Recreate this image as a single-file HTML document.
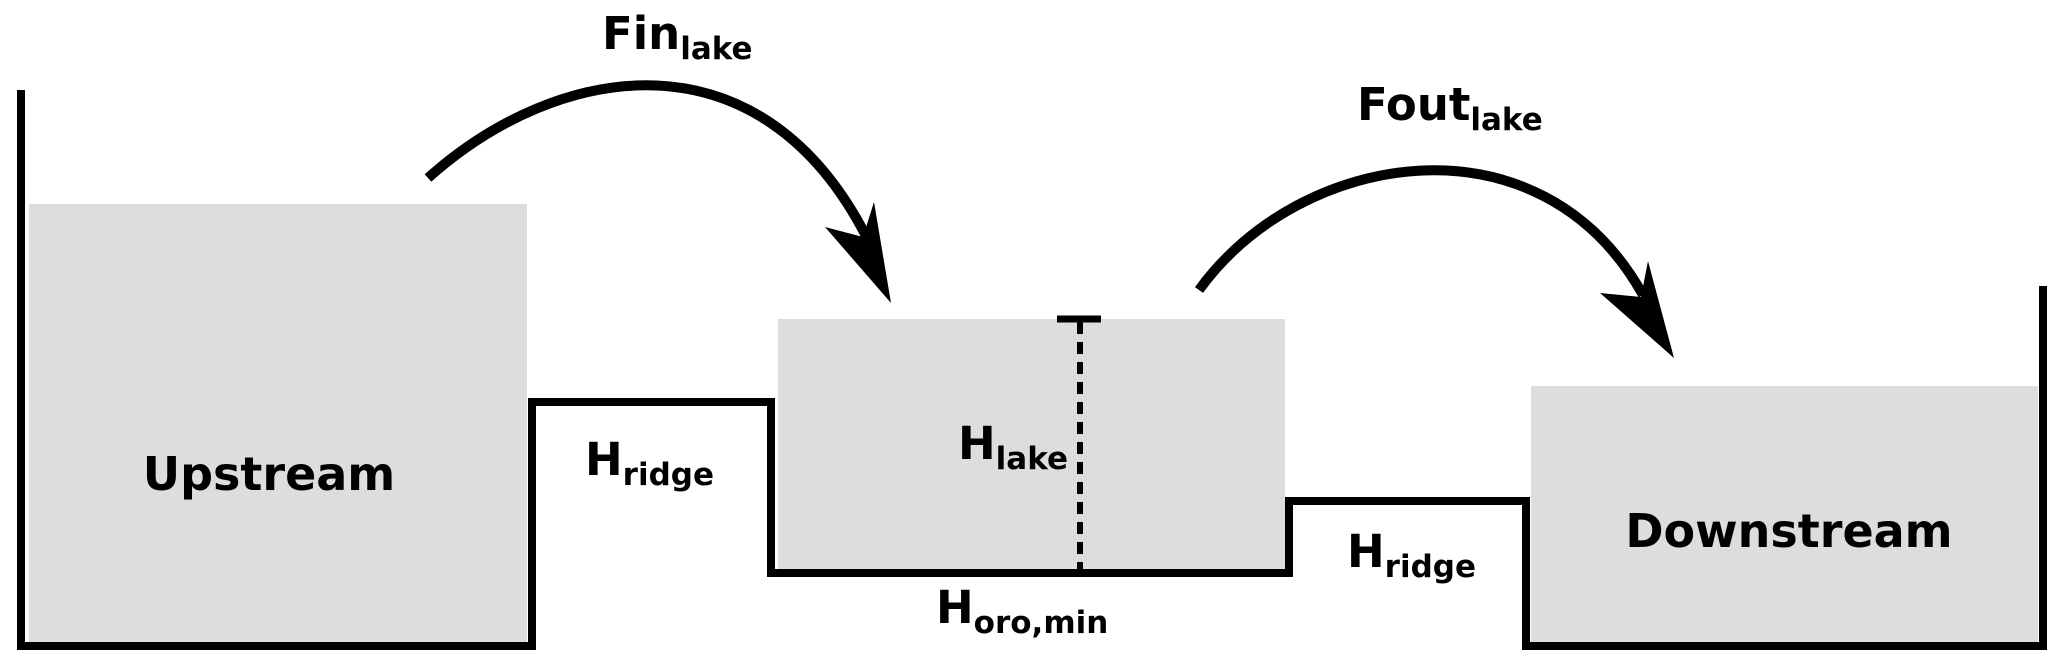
<!DOCTYPE html>
<html><head><meta charset="utf-8"><style>
html,body{margin:0;padding:0;background:#fff;}
svg{display:block;}
text{font-family:"DejaVu Sans","Liberation Sans",sans-serif;font-weight:bold;fill:#000;}
</style></head><body>
<svg width="2067" height="670" viewBox="0 0 2067 670" xmlns="http://www.w3.org/2000/svg">
<rect x="29" y="204" width="498" height="439" fill="#dddddd"/>
<rect x="778" y="319" width="507" height="250" fill="#dddddd"/>
<rect x="1531" y="386" width="507" height="257" fill="#dddddd"/>
<path d="M21 90 V646 H532 V402 H771 V573 H1289 V501 H1526 V646 H2043 V286" fill="none" stroke="#000" stroke-width="8"/>
<line x1="1080" y1="322" x2="1080" y2="569" stroke="#000" stroke-width="6" stroke-dasharray="12,8"/>
<line x1="1057" y1="319" x2="1101" y2="319" stroke="#000" stroke-width="7"/>
<path d="M428 178 C560 60, 760 30, 866 236" fill="none" stroke="#000" stroke-width="10"/>
<polygon points="891,303 825,227 863,237 874,202" fill="#000"/>
<path d="M1199 290 C1300 150, 1540 110, 1643 295" fill="none" stroke="#000" stroke-width="10"/>
<polygon points="1674,358 1600,293 1641,297 1648,261" fill="#000"/>
<text x="602" y="49" font-size="45">Fin<tspan font-size="31" dy="10">lake</tspan></text>
<text x="1357" y="120" font-size="45">Fout<tspan font-size="31" dy="10">lake</tspan></text>
<text x="269" y="490" font-size="46" text-anchor="middle">Upstream</text>
<text x="1789" y="547" font-size="46" text-anchor="middle">Downstream</text>
<text x="585" y="475" font-size="45">H<tspan font-size="31" dy="10">ridge</tspan></text>
<text x="1347" y="567" font-size="45">H<tspan font-size="31" dy="10">ridge</tspan></text>
<text x="958" y="459" font-size="45">H<tspan font-size="31" dy="10">lake</tspan></text>
<text x="936" y="623" font-size="45">H<tspan font-size="31" dy="10">oro,min</tspan></text>
</svg>
</body></html>
